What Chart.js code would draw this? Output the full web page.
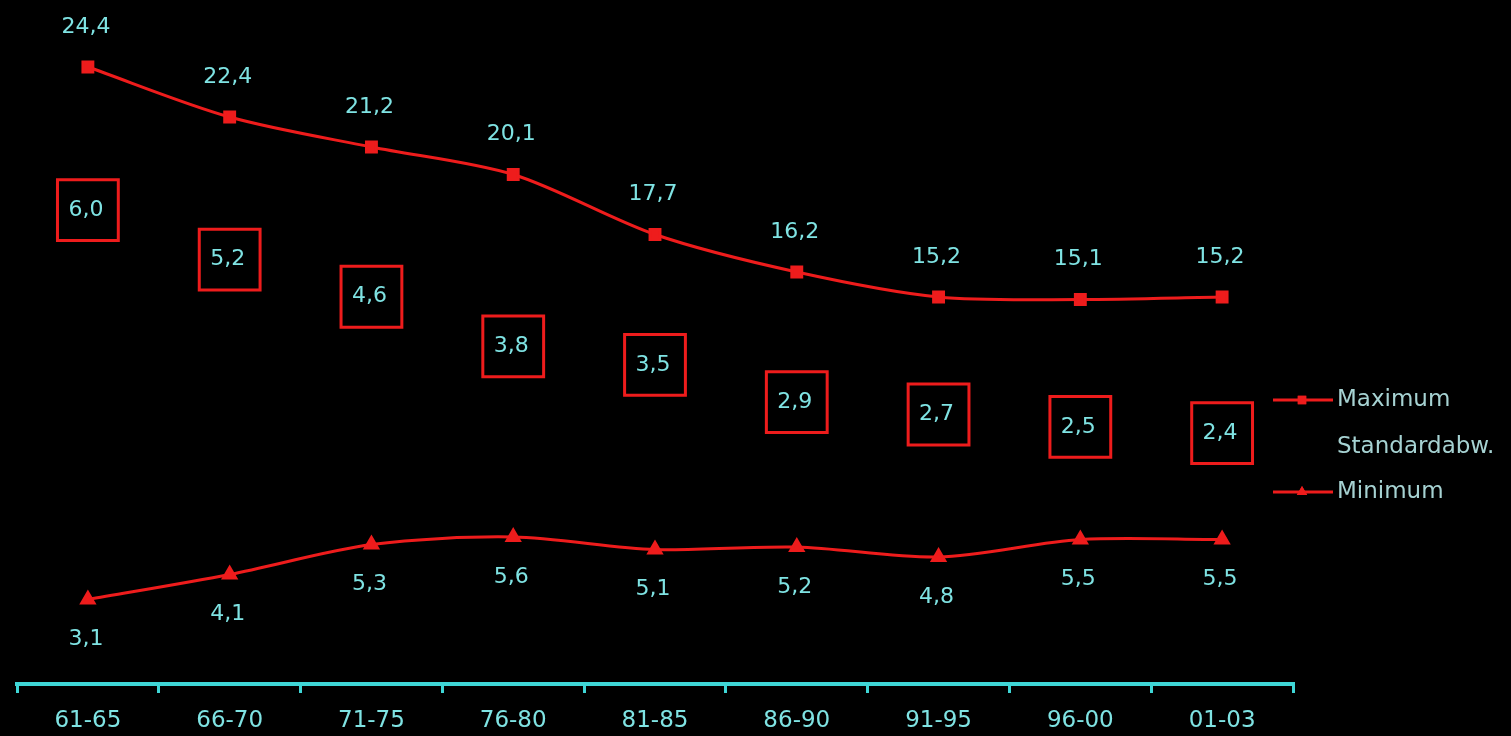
<!DOCTYPE html>
<html>
<head>
<meta charset="utf-8">
<script src="https://cdn.jsdelivr.net/npm/chart.js@4/dist/chart.umd.min.js"></script>
<style>
  html, body { margin: 0; padding: 0; background: #000; }
  #wrap { width: 1511px; height: 736px; position: relative; }
</style>
</head>
<body>
<div id="wrap"><canvas id="chart"></canvas></div>
<script>
// --- DATA ---
const periods = ['61-65', '66-70', '71-75', '76-80', '81-85', '86-90', '91-95', '96-00', '01-03'];
const maximum = [24.4, 22.4, 21.2, 20.1, 17.7, 16.2, 15.2, 15.1, 15.2];
const stdDev = [6.0, 5.2, 4.6, 3.8, 3.5, 2.9, 2.7, 2.5, 2.4];
const minimum = [3.1, 4.1, 5.3, 5.6, 5.1, 5.2, 4.8, 5.5, 5.5];

const RED = '#ee1c1c';
const CYAN = '#7fe3e3';
const AXIS = '#3fd6d6';
const FONT = '"DejaVu Sans", Verdana, sans-serif';

const fmt = v => v.toFixed(1).replace('.', ',');

// value labels (above max, inside boxes, below min)
const valueLabels = {
  id: 'valueLabels',
  afterDatasetsDraw(chart) {
    const ctx = chart.ctx;
    ctx.save();
    ctx.fillStyle = CYAN;
    ctx.font = '22px ' + FONT;
    ctx.textAlign = 'center';
    ctx.textBaseline = 'middle';
    chart.data.datasets.forEach((ds, i) => {
      const meta = chart.getDatasetMeta(i);
      meta.data.forEach((pt, j) => {
        let dy = 0;
        if (ds.labelPos === 'above') dy = -40;
        if (ds.labelPos === 'below') dy = 40;
        ctx.fillText(fmt(ds.data[j]), pt.x - 2, pt.y + dy);
      });
    });
    ctx.restore();
  }
};

// legend on the right
const sideLegend = {
  id: 'sideLegend',
  afterDraw(chart) {
    const ctx = chart.ctx;
    const items = [
      { text: 'Maximum', y: 400, ds: 0 },
      { text: 'Standardabw.', y: 447, ds: null },
      { text: 'Minimum', y: 492, ds: 2 }
    ];
    ctx.save();
    ctx.font = '23px ' + FONT;
    ctx.textBaseline = 'middle';
    items.forEach(it => {
      if (it.ds !== null) {
        const ds = chart.data.datasets[it.ds];
        ctx.strokeStyle = RED;
        ctx.lineWidth = 3;
        ctx.beginPath();
        ctx.moveTo(1273, it.y);
        ctx.lineTo(1333, it.y);
        ctx.stroke();
        ctx.fillStyle = RED;
        Chart.helpers.drawPoint(ctx, { pointStyle: ds.pointStyle, radius: 6, rotation: 0, borderWidth: 0 }, 1302, it.y);
        ctx.fill();
      }
      ctx.fillStyle = '#a6d2d2';
      ctx.fillText(it.text, 1337, it.y);
    });
    ctx.restore();
  }
};

new Chart(document.getElementById('chart'), {
  type: 'line',
  data: {
    labels: periods,
    datasets: [
      {
        label: 'Maximum',
        data: maximum,
        yAxisID: 'y',
        borderColor: RED,
        backgroundColor: RED,
        borderWidth: 3,
        pointStyle: 'rect',
        pointRadius: 7,
        tension: 0.3,
        labelPos: 'above'
      },
      {
        label: 'Standardabw.',
        data: stdDev,
        yAxisID: 'y2',
        showLine: false,
        pointStyle: 'rect',
        pointRadius: 43,
        pointBorderWidth: 3,
        pointBorderColor: RED,
        pointBackgroundColor: 'rgba(0,0,0,0)',
        labelPos: 'center'
      },
      {
        label: 'Minimum',
        data: minimum,
        yAxisID: 'y',
        borderColor: RED,
        backgroundColor: RED,
        borderWidth: 3,
        pointStyle: 'triangle',
        pointRadius: 7,
        tension: 0.3,
        labelPos: 'below'
      }
    ]
  },
  options: {
    responsive: true,
    maintainAspectRatio: false,
    animation: false,
    layout: { autoPadding: false, padding: { left: 17, right: 218, top: 0, bottom: 0 } },
    plugins: {
      legend: { display: false },
      tooltip: { enabled: false }
    },
    scales: {
      x: {
        offset: true,
        grid: {
          display: true,
          offset: true,
          drawOnChartArea: false,
          drawTicks: true,
          tickLength: 9,
          color: AXIS,
          lineWidth: 3
        },
        border: { display: true, color: AXIS, width: 4 },
        ticks: {
          color: CYAN,
          padding: 14,
          font: { size: 23, family: FONT }
        },
        afterFit(scale) {
          scale.height = 52;
          scale.paddingLeft = 0;
          scale.paddingRight = 0;
        }
      },
      y: { display: false, min: -0.28, max: 27.08 },
      y2: { display: false, min: -1.65, max: 9.39 }
    }
  },
  plugins: [valueLabels, sideLegend]
});
</script>
</body>
</html>
